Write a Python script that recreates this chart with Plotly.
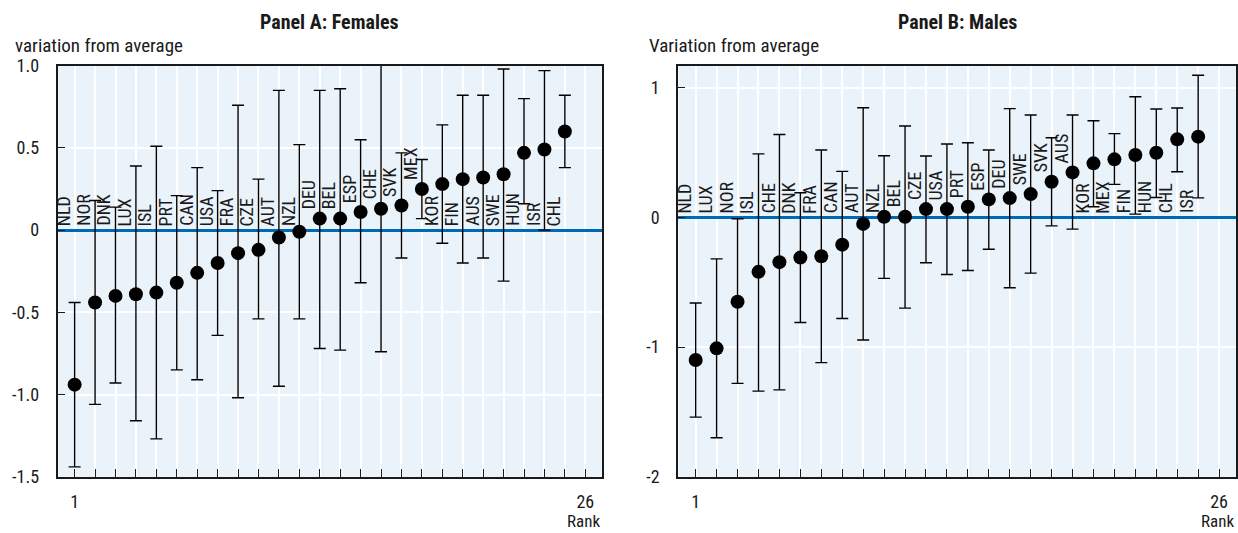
import plotly.graph_objects as go
from plotly.subplots import make_subplots

ranks = list(range(1, 26))

# Panel A: females
countries_f = ["NLD", "NOR", "DNK", "LUX", "ISL", "PRT", "CAN", "USA", "FRA", "CZE", "AUT", "NZL", "DEU",
               "BEL", "ESP", "CHE", "SVK", "MEX", "KOR", "FIN", "AUS", "SWE", "HUN", "ISR", "CHL"]
values_f = [-0.94, -0.44, -0.40, -0.39, -0.38, -0.32, -0.26, -0.20, -0.14, -0.12, -0.045, -0.01, 0.07,
            0.07, 0.11, 0.13, 0.15, 0.25, 0.28, 0.31, 0.32, 0.34, 0.47, 0.49, 0.60]
lower_f = [-1.44, -1.06, -0.93, -1.16, -1.27, -0.85, -0.91, -0.64, -1.02, -0.54, -0.95, -0.54, -0.72,
           -0.73, -0.32, -0.74, -0.17, 0.07, -0.08, -0.20, -0.17, -0.31, 0.16, 0.00, 0.38]
upper_f = [-0.44, 0.18, 0.14, 0.39, 0.51, 0.21, 0.38, 0.24, 0.76, 0.31, 0.85, 0.52, 0.85,
           0.86, 0.55, 1.05, 0.47, 0.43, 0.64, 0.82, 0.82, 0.98, 0.80, 0.97, 0.82]

# Panel B: males
countries_m = ["NLD", "LUX", "NOR", "ISL", "CHE", "DNK", "FRA", "CAN", "AUT", "NZL", "BEL", "CZE", "USA",
               "PRT", "ESP", "DEU", "SWE", "SVK", "AUS", "KOR", "MEX", "FIN", "HUN", "CHL", "ISR"]
values_m = [-1.10, -1.01, -0.65, -0.42, -0.345, -0.31, -0.30, -0.21, -0.05, 0.005, 0.005, 0.064, 0.064,
            0.082, 0.139, 0.149, 0.18, 0.275, 0.347, 0.417, 0.448, 0.481, 0.499, 0.602, 0.623]
lower_m = [-1.54, -1.70, -1.28, -1.34, -1.33, -0.81, -1.12, -0.78, -0.945, -0.47, -0.70, -0.35, -0.44,
           -0.41, -0.245, -0.543, -0.43, -0.065, -0.09, 0.082, 0.255, 0.025, 0.154, 0.352, 0.151]
upper_m = [-0.66, -0.32, -0.01, 0.49, 0.64, 0.19, 0.52, 0.355, 0.846, 0.476, 0.705, 0.474, 0.566,
           0.576, 0.52, 0.839, 0.79, 0.615, 0.79, 0.746, 0.646, 0.931, 0.836, 0.844, 1.096]

FONT = "Roboto Condensed, DejaVu Sans Condensed, Liberation Sans Narrow, Liberation Sans, Arial, sans-serif"
INK = "#1a1a1a"
BLUE = "#0069b4"

fig = make_subplots(rows=1, cols=2)


def add_panel(col, countries, values, lower, upper, lifted):
    fig.add_trace(go.Scatter(
        x=ranks, y=values, mode="markers",
        marker=dict(color="black", size=14),
        error_y=dict(type="data", symmetric=False,
                     array=[u - v for u, v in zip(upper, values)],
                     arrayminus=[v - l for v, l in zip(values, lower)],
                     color="black", thickness=1.4, width=6),
        showlegend=False, hoverinfo="skip"), row=1, col=col)
    # country codes, rotated, sitting on the zero line or just above the dot
    for i, c in enumerate(countries):
        up = i in lifted
        fig.add_annotation(x=ranks[i], y=values[i] if up else 0, text=c, textangle=-90,
                           xanchor="right", yanchor="bottom", xshift=1, yshift=7 if up else 2,
                           showarrow=False, font=dict(size=18, family=FONT, color=INK),
                           row=1, col=col)


add_panel(1, countries_f, values_f, lower_f, upper_f, range(12, 18))
add_panel(2, countries_m, values_m, lower_m, upper_m, range(10, 19))

xticks = list(range(1, 27))
xtext = ["1"] + [""] * 24 + ["26"]
fig.update_xaxes(range=[0.17, 26.82], tickvals=xticks, ticktext=xtext, ticks="inside", ticklen=8,
                 tickwidth=1.2, tickcolor=INK, showgrid=True, gridcolor="white", gridwidth=1.5,
                 showline=True, linecolor=INK, linewidth=2, mirror=True, zeroline=False,
                 ticklabelstandoff=8, tickfont=dict(size=18, family=FONT, color=INK), automargin=False)
fig.update_yaxes(ticks="inside", ticklen=7, tickwidth=1.2, tickcolor=INK, showgrid=True,
                 gridcolor="white", gridwidth=1.5, showline=True, linecolor=INK, linewidth=2,
                 mirror=True, zeroline=True, zerolinecolor=BLUE, zerolinewidth=3,
                 ticklabelstandoff=13, tickfont=dict(size=18, family=FONT, color=INK), automargin=False)
fig.update_yaxes(range=[-1.5, 1.0], tickvals=[-1.5, -1, -0.5, 0, 0.5, 1],
                 ticktext=["-1.5", "-1.0", "-0.5", "0", "0.5", "1.0"], row=1, col=1)
fig.update_yaxes(range=[-2, 1.17], tickvals=[-2, -1, 0, 1], ticktext=["-2", "-1", "0", "1"], row=1, col=2)

fig.update_layout(
    xaxis=dict(domain=[0.0466, 0.4863]), xaxis2=dict(domain=[0.5479, 0.9986]),
    yaxis=dict(domain=[0.1056, 0.8767]), yaxis2=dict(domain=[0.1056, 0.8767]),
)

for xr, title, ytitle, shift in [("x domain", "Panel A: Females", "variation from average", -45),
                                 ("x2 domain", "Panel B: Males", "Variation from average", -31)]:
    fig.add_annotation(xref=xr, yref="paper", x=0.5, y=1 - 22 / 533, text="<b>" + title + "</b>",
                       showarrow=False, yanchor="middle", font=dict(size=20, family=FONT, color=INK))
    fig.add_annotation(xref=xr, yref="paper", x=0, y=1 - 46 / 533, text=ytitle, xanchor="left",
                       xshift=shift, yanchor="middle", showarrow=False,
                       font=dict(size=19, family=FONT, color=INK))
    fig.add_annotation(xref=xr, yref="paper", x=1, y=1 - 521 / 533, text="Rank", xanchor="right",
                       yanchor="middle", showarrow=False, font=dict(size=17, family=FONT, color=INK))

fig.update_layout(width=1238, height=533, margin=dict(l=0, r=0, t=0, b=0, pad=0, autoexpand=False),
                  paper_bgcolor="white", plot_bgcolor="#eaf2fa", showlegend=False)

# pin the chart to the top-left corner of the window, no page margins or scrollbars
pin = ("var gd=document.getElementById('{plot_id}');"
       "document.documentElement.style.margin='0';document.body.style.margin='0';"
       "document.documentElement.style.overflow='hidden';document.body.style.overflow='hidden';"
       "gd.style.position='fixed';gd.style.left='0px';gd.style.top='0px';")
fig.write_html("out.html", config={"displayModeBar": False, "responsive": False}, post_script=pin)
